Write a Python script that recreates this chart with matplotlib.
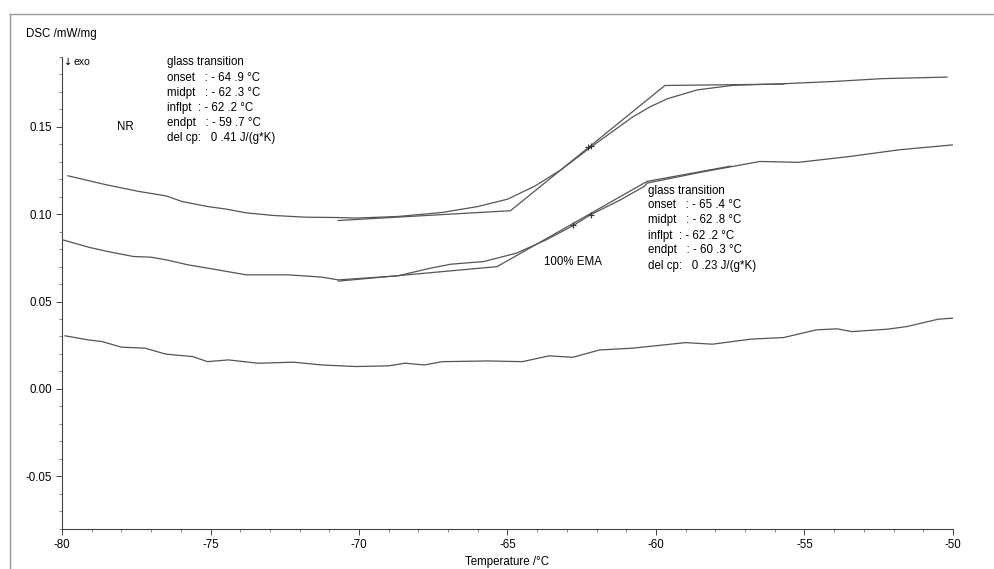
import matplotlib
matplotlib.use("Agg")
from matplotlib import pyplot as plt
from matplotlib.lines import Line2D
from matplotlib.ticker import MultipleLocator, FormatStrFormatter

plt.rcParams['font.family'] = ['Liberation Sans', 'DejaVu Sans']
plt.rcParams['axes.unicode_minus'] = False

# NR curve (top)
nr_temp = [-79.8, -78.55, -77.4, -76.5, -75.96, -75.1, -74.5, -73.8, -72.9, -71.8, -70.7,
           -70.1, -68.7, -67.2, -66.0, -65.0, -64.1, -63.2, -62.3, -61.9, -60.8, -60.2,
           -59.6, -58.6, -57.4, -55.7, -54.0, -52.4, -50.2]
nr_dsc = [0.122, 0.117, 0.113, 0.1105, 0.1073, 0.1044, 0.103, 0.1008, 0.0993, 0.0983, 0.0981,
          0.0978, 0.0987, 0.101, 0.1044, 0.1086, 0.1159, 0.1254, 0.137, 0.142, 0.1555, 0.1615,
          0.1662, 0.1712, 0.1738, 0.1747, 0.176, 0.1776, 0.1785]
# NR tangent construction
nr_tan_temp = [-70.7, -64.9, -59.7, -55.7]
nr_tan_dsc = [0.0964, 0.102, 0.1737, 0.1745]
nr_marks_temp = [-62.3, -62.2]
nr_marks_dsc = [0.1382, 0.1392]

# 100% EMA curve (middle)
ema_temp = [-79.97, -79.1, -78.45, -77.6, -77.0, -76.5, -75.75, -74.95, -73.8, -72.4, -71.25,
            -70.7, -68.7, -67.6, -66.9, -65.8, -64.7, -63.7, -62.8, -62.2, -61.2, -60.4,
            -60.3, -58.5, -56.5, -55.2, -53.5, -51.8, -50.0]
ema_dsc = [0.0853, 0.0811, 0.0786, 0.0758, 0.0754, 0.0739, 0.071, 0.0687, 0.0653, 0.0653, 0.064,
           0.0624, 0.0647, 0.0691, 0.0714, 0.0729, 0.0777, 0.0853, 0.0934, 0.0997, 0.1082, 0.1159,
           0.1178, 0.124, 0.1302, 0.1297, 0.133, 0.1369, 0.1397]
ema_tan_temp = [-70.7, -65.35, -60.3, -57.5]
ema_tan_dsc = [0.0617, 0.070, 0.1188, 0.1275]
ema_marks_temp = [-62.8, -62.2]
ema_marks_dsc = [0.0939, 0.0997]

# third curve (bottom)
bot_temp = [-79.9, -79.1, -78.65, -78.0, -77.2, -76.5, -75.6, -75.1, -74.4, -73.4, -72.2,
            -71.25, -70.1, -69.0, -68.45, -67.8, -67.2, -65.65, -64.5, -63.6, -62.8, -61.9,
            -60.8, -59.0, -58.1, -56.8, -55.7, -54.6, -53.9, -53.4, -52.2, -51.55, -50.5, -50.0]
bot_dsc = [0.0304, 0.028, 0.0271, 0.0239, 0.0233, 0.0199, 0.0185, 0.0156, 0.0166, 0.0147, 0.0153,
           0.0137, 0.0128, 0.0132, 0.0147, 0.0137, 0.0156, 0.016, 0.0156, 0.0189, 0.0181, 0.0223,
           0.0233, 0.0265, 0.0256, 0.0285, 0.0294, 0.0338, 0.0344, 0.0328, 0.0342, 0.0357, 0.0399, 0.0405]

nr_text = ['glass transition', 'onset   : - 64 .9 °C', 'midpt   : - 62 .3 °C',
           'inflpt  : - 62 .2 °C', 'endpt   : - 59 .7 °C', 'del cp:   0 .41 J/(g*K)']
ema_text = ['glass transition', 'onset   : - 65 .4 °C', 'midpt   : - 62 .8 °C',
            'inflpt  : - 62 .2 °C', 'endpt   : - 60 .3 °C', 'del cp:   0 .23 J/(g*K)']

line_col = '#555555'
fs = 8.3
fig = plt.figure(figsize=(9.95, 5.69), dpi=100)
ax = fig.add_axes([62 / 995, 1 - 529 / 569, (953 - 62) / 995, (529 - 57) / 569])

ax.plot(nr_temp, nr_dsc, color=line_col, lw=0.9)
ax.plot(nr_tan_temp, nr_tan_dsc, color=line_col, lw=0.9)
ax.plot(nr_marks_temp, nr_marks_dsc, ls='none', marker='+', ms=5, mew=0.8, color='#333333')
ax.plot(ema_temp, ema_dsc, color=line_col, lw=0.9)
ax.plot(ema_tan_temp, ema_tan_dsc, color=line_col, lw=0.9)
ax.plot(ema_marks_temp, ema_marks_dsc, ls='none', marker='+', ms=5, mew=0.8, color='#333333')
ax.plot(bot_temp, bot_dsc, color=line_col, lw=0.9)

ax.set_xlim(-80, -50)
ax.set_ylim(-0.0802, 0.19)
ax.spines['top'].set_visible(False)
ax.spines['right'].set_visible(False)
for s in ('left', 'bottom'):
    ax.spines[s].set_color('#444444')
    ax.spines[s].set_linewidth(0.8)
ax.xaxis.set_major_locator(MultipleLocator(5))
ax.xaxis.set_minor_locator(MultipleLocator(1))
ax.set_yticks([-0.05, 0.0, 0.05, 0.10, 0.15])
ax.yaxis.set_minor_locator(MultipleLocator(0.01))
ax.yaxis.set_major_formatter(FormatStrFormatter('%.2f'))
ax.tick_params(which='major', length=4, width=0.7, color='#444444', labelsize=fs, pad=3)
ax.tick_params(which='minor', length=2.5, width=0.6, color='#777777')
ax.set_xlabel('Temperature /°C', fontsize=fs, labelpad=4)

fig.text(26 / 995, 1 - 34 / 569, 'DSC /mW/mg', fontsize=fs, va='center')
fig.text(68 / 995, 1 - 62 / 569, '↓', fontsize=7, va='center', ha='center',
         family='DejaVu Sans')
fig.text(74 / 995, 1 - 62 / 569, 'exo', fontsize=7.5, va='center')
fig.text(117 / 995, 1 - 127 / 569, 'NR', fontsize=fs, va='center')
fig.text(544 / 995, 1 - 262 / 569, '100% EMA', fontsize=fs, va='center')
for i, t in enumerate(nr_text):
    fig.text(167 / 995, 1 - (62.5 + i * 15.2) / 569, t, fontsize=fs, va='center')
for i, t in enumerate(ema_text):
    fig.text(648 / 995, 1 - (190.5 + i * 15.0) / 569, t, fontsize=fs, va='center')

# outer frame of the scanned page
fig.add_artist(Line2D([10 / 995, 1.0], [1 - 14 / 569, 1 - 14 / 569],
                      transform=fig.transFigure, color='#999999', lw=1.0))
fig.add_artist(Line2D([10 / 995, 10 / 995], [0.0, 1 - 14 / 569],
                      transform=fig.transFigure, color='#999999', lw=1.0))

fig.savefig('out.png', dpi=100)
